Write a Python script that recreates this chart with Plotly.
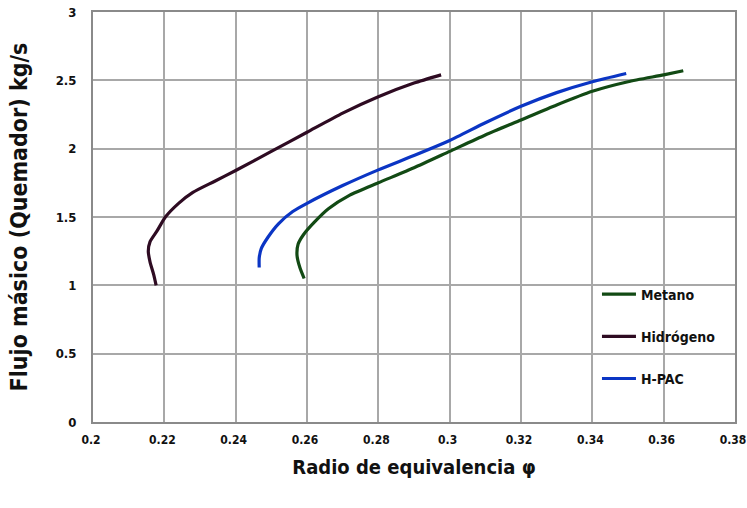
import plotly.graph_objects as go

# Metano
metano_x = [0.2592, 0.2580, 0.2572, 0.2575, 0.2590, 0.2620, 0.2660, 0.2720, 0.2800, 0.2900,
            0.3000, 0.3100, 0.3200, 0.3300, 0.3400, 0.3500, 0.3600, 0.3655]
metano_y = [1.05, 1.13, 1.22, 1.30, 1.37, 1.46, 1.56, 1.66, 1.75, 1.86,
            1.98, 2.10, 2.21, 2.32, 2.42, 2.49, 2.54, 2.57]

# Hidrógeno
hidro_x = [0.2177, 0.2170, 0.2160, 0.2155, 0.2160, 0.2180, 0.2203, 0.2240, 0.2280, 0.2340,
           0.2400, 0.2500, 0.2600, 0.2700, 0.2800, 0.2900, 0.2976]
hidro_y = [1.00, 1.08, 1.17, 1.25, 1.32, 1.40, 1.50, 1.60, 1.68, 1.76,
           1.84, 1.98, 2.12, 2.26, 2.38, 2.48, 2.54]

# H-PAC
hpac_x = [0.2466, 0.2466, 0.2472, 0.2490, 0.2520, 0.2560, 0.2600, 0.2700, 0.2800, 0.2900,
          0.3000, 0.3100, 0.3200, 0.3300, 0.3400, 0.3495]
hpac_y = [1.13, 1.20, 1.27, 1.35, 1.45, 1.54, 1.60, 1.73, 1.845, 1.95,
          2.06, 2.19, 2.31, 2.41, 2.49, 2.55]

x_ticks = [0.2, 0.22, 0.24, 0.26, 0.28, 0.3, 0.32, 0.34, 0.36, 0.38]
y_ticks = [0, 0.5, 1, 1.5, 2, 2.5, 3]

FONT = "DejaVu Sans Condensed, Liberation Sans Narrow, sans-serif"

series = [
    ("Metano", metano_x, metano_y, "#124a14"),
    ("Hidrógeno", hidro_x, hidro_y, "#2e0b22"),
    ("H-PAC", hpac_x, hpac_y, "#0b35c4"),
]

fig = go.Figure()
for name, xs, ys, col in series:
    fig.add_trace(go.Scatter(
        x=xs, y=ys, mode="lines", name=name, legendgroup=name,
        line=dict(color=col, width=3.2, shape="spline", smoothing=0.6),
    ))

fig.update_layout(
    width=747, height=508,
    margin=dict(l=93, r=12, t=12, b=86, autoexpand=False),
    paper_bgcolor="white", plot_bgcolor="white",
    font=dict(family=FONT, color="#111111"),
    showlegend=True,
    legend=dict(
        x=0.785, y=0.35, xanchor="left", yanchor="top",
        bgcolor="rgba(0,0,0,0)",
        font=dict(family=FONT, size=14, color="#111111", weight="bold"),
        tracegroupgap=21, itemwidth=34,
    ),
    xaxis=dict(
        range=[0.2, 0.38], tickvals=x_ticks,
        ticktext=[str(v) for v in x_ticks],
        showgrid=True, gridcolor="#a8a8a8", gridwidth=1.5,
        showline=True, linecolor="#8a8a8a", linewidth=2, mirror=True,
        zeroline=False, ticks="", automargin=False, ticklabelstandoff=6,
        ticklabeloverflow="allow", ticklabelshift=-2,
        tickfont=dict(family=FONT, size=12, color="#111111", weight="bold"),
        title=dict(text="Radio de equivalencia φ", standoff=14,
                   font=dict(family=FONT, size=20, color="#111111", weight="bold")),
    ),
    yaxis=dict(
        range=[0, 3], tickvals=y_ticks,
        ticktext=[str(v) for v in y_ticks],
        showgrid=True, gridcolor="#a8a8a8", gridwidth=1.5,
        showline=True, linecolor="#8a8a8a", linewidth=2, mirror=True,
        zeroline=False, ticks="", ticklabelstandoff=12, automargin=False,
        ticklabeloverflow="allow",
        tickfont=dict(family=FONT, size=13, color="#111111", weight="bold"),
        title=dict(text="Flujo másico (Quemador) kg/s", standoff=22,
                   font=dict(family=FONT, size=23, color="#111111", weight="bold")),
    ),
)

fig.write_html("out.html", config={"displayModeBar": False},
               post_script="document.body.style.margin='0';")
